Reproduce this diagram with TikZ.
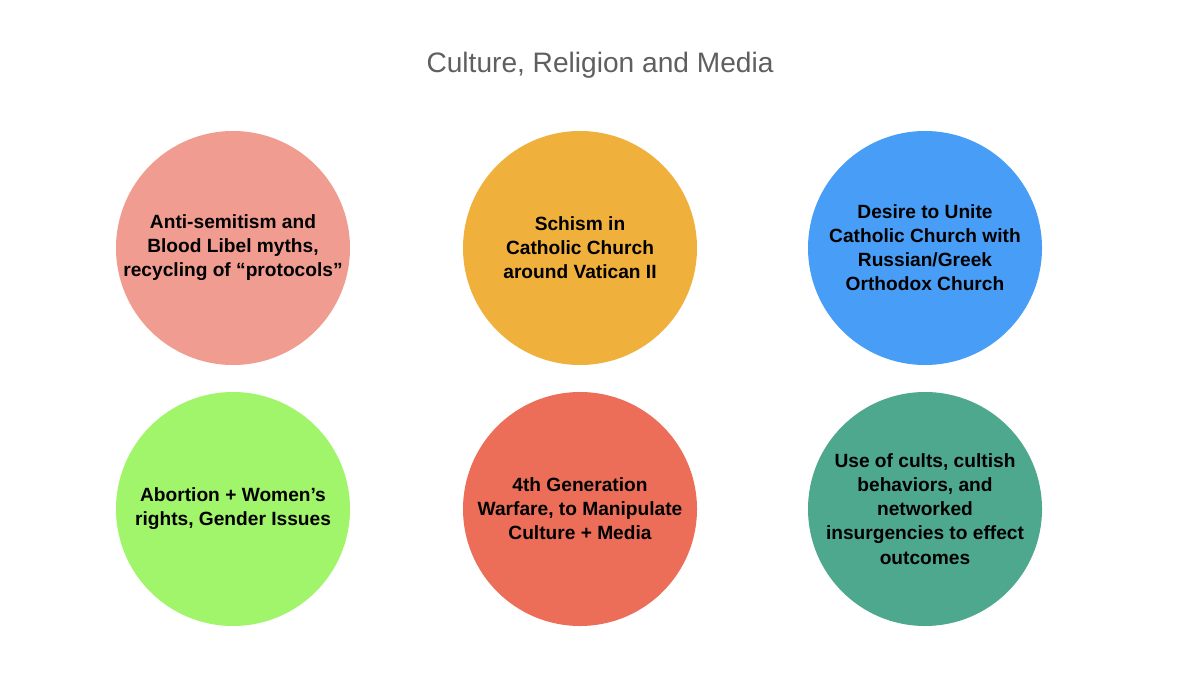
\documentclass[tikz,border=0pt]{standalone}
\usepackage{fontspec}
\setmainfont{Liberation Sans}
\usepackage{tikz}
\usetikzlibrary{positioning}
\definecolor{salmonpink}{RGB}{240,156,144}
\definecolor{amber}{RGB}{240,176,60}
\definecolor{skyblue}{RGB}{72,158,246}
\definecolor{limegreen}{RGB}{160,245,106}
\definecolor{tomato}{RGB}{236,110,88}
\definecolor{seagreen}{RGB}{78,168,142}
\definecolor{titlegray}{RGB}{95,95,95}

\begin{document}
\begin{tikzpicture}[font=\fontsize{11}{13.7}\selectfont,
  bubble/.style={circle,minimum size=4.68cm,inner sep=0pt,align=center,text=black,font=\bfseries\fontsize{10.9}{13.7}\selectfont}]
 \useasboundingbox[fill=white] (0,0) rectangle (24,13.5);
 \node[text=titlegray,font=\fontsize{16}{19}\selectfont] (title) at(12,12.2){Culture, Religion and Media};
 \node[bubble,fill=salmonpink] (anti) at(4.66,8.54){Anti-semitism and\\Blood Libel myths,\\recycling of “protocols”};
 \node[bubble,fill=amber] (schism) at(11.6,8.54){Schism in\\Catholic Church\\around Vatican II};
 \node[bubble,fill=skyblue] (unite) at(18.5,8.54){Desire to Unite\\Catholic Church with\\Russian/Greek\\Orthodox Church};
 \node[bubble,fill=limegreen] (abortion) at(4.66,3.32){Abortion + Women’s\\rights, Gender Issues};
 \node[bubble,fill=tomato] (warfare) at(11.6,3.32){4th Generation\\Warfare, to Manipulate\\Culture + Media};
 \node[bubble,fill=seagreen] (cults) at(18.5,3.32){Use of cults, cultish\\behaviors, and\\networked\\insurgencies to effect\\outcomes};
\end{tikzpicture}
\end{document}
